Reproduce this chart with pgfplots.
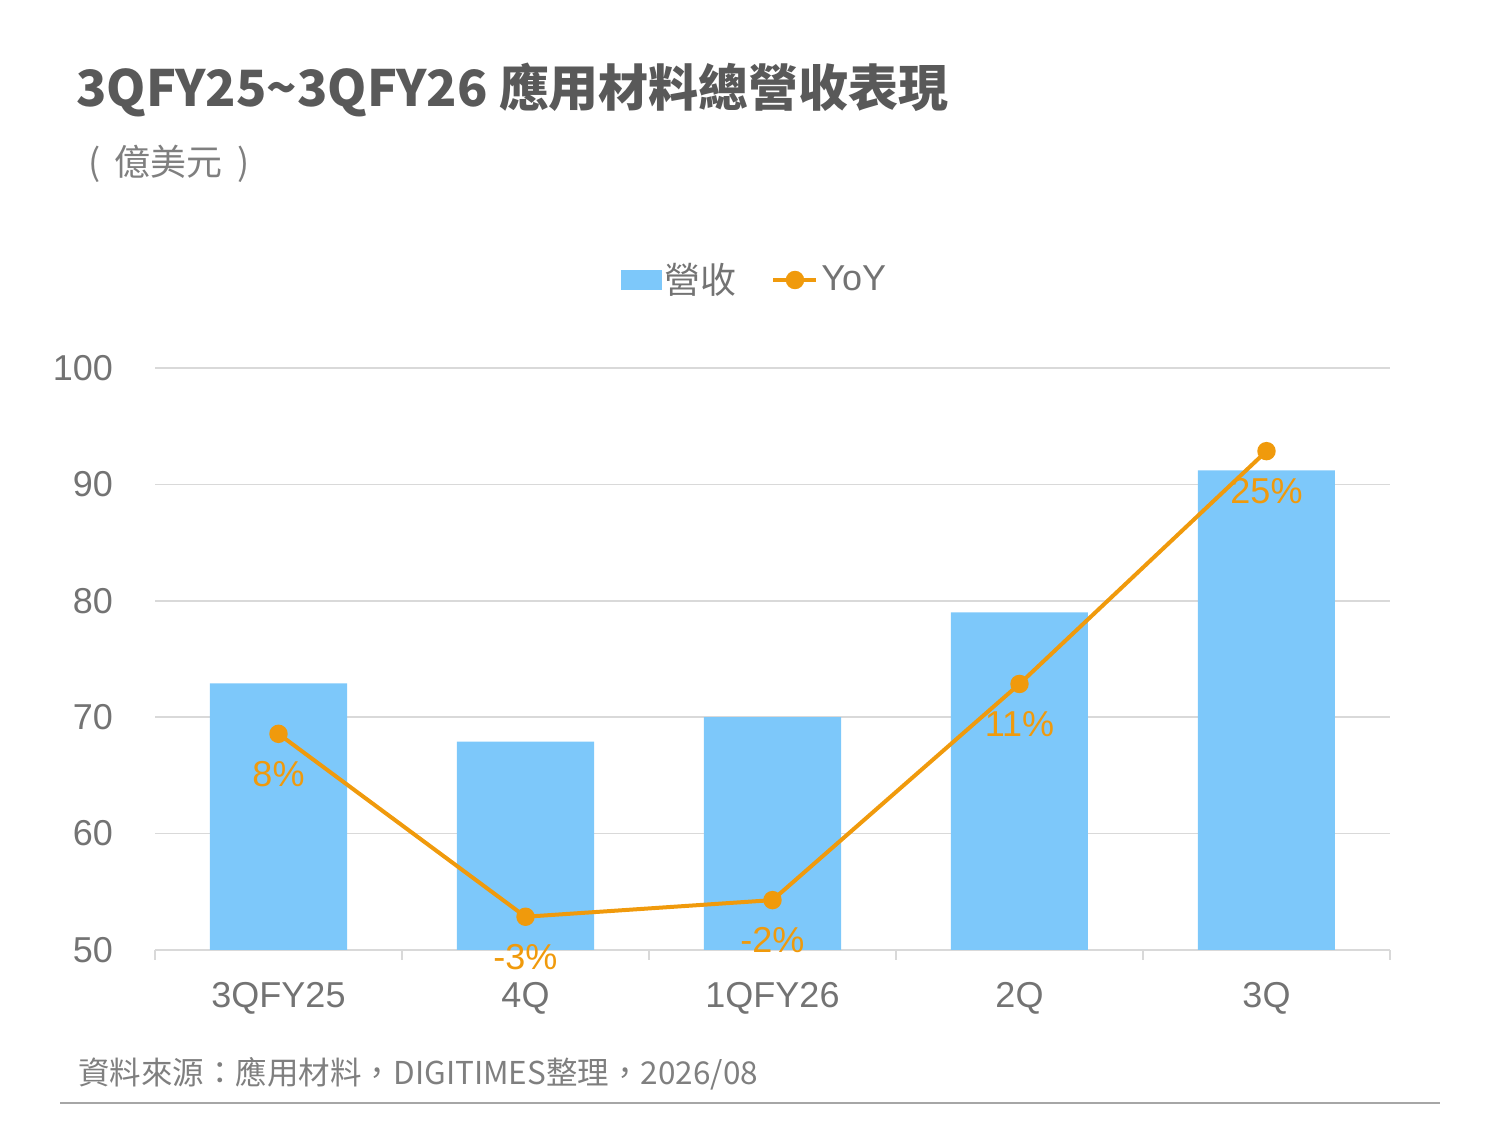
\documentclass[border=0pt]{standalone}
\usepackage{pgfplots}
\pgfplotsset{compat=1.18}
\usepackage{fontspec}
\setmainfont{Liberation Sans}
\newfontfamily\cjk{Noto Sans CJK TC}
\definecolor{barblue}{HTML}{7DC8FA}
\definecolor{lineorange}{HTML}{F09A0C}
\definecolor{titlegray}{HTML}{595959}
\definecolor{txtgray}{HTML}{7F7F7F}
\definecolor{tickgray}{HTML}{737373}
\definecolor{gridgray}{HTML}{D9D9D9}
\definecolor{rulegray}{HTML}{A6A6A6}
\begin{document}
\begin{tikzpicture}
\path[use as bounding box] (0,0) rectangle (750pt,562.5pt);
% title
\node[anchor=base west, inner sep=0pt, text=titlegray, font=\cjk\bfseries\fontsize{25}{28}\selectfont] at (38pt,509pt) {3QFY25\textasciitilde 3QFY26 應用材料總營收表現};
\node[anchor=base west, inner sep=0pt, text=txtgray, font=\cjk\fontsize{18}{20}\selectfont] at (44pt,474.5pt) {(\hspace{0.4em}億美元\hspace{0.4em})};
% footer
\node[anchor=base west, inner sep=0pt, text=txtgray, font=\cjk\fontsize{15.75}{18}\selectfont] at (39pt,20pt) {資料來源：應用材料，DIGITIMES整理，2026/08};
\draw[rulegray, line width=0.8pt] (30pt,11pt) -- (720pt,11pt);

\begin{axis}[
  at={(77.5pt,87.5pt)}, anchor=south west,
  scale only axis, width=617.5pt, height=291pt,
  xmin=-0.5, xmax=4.5, ymin=50, ymax=100,
  ytick={50,60,70,80,90,100},
  xtick={0,1,2,3,4},
  xticklabels={3QFY25,4Q,1QFY26,2Q,3Q},
  minor xtick={-0.5,0.5,1.5,2.5,3.5,4.5},
  major tick length=0pt, minor tick length=5pt,
  tick align=outside,
  axis lines*=left,
  x axis line style={gridgray, line width=0.75pt},
  y axis line style={draw=none},
  minor tick style={gridgray, line width=0.75pt},
  ymajorgrids, grid style={gridgray, line width=0.75pt},
  /pgf/number format/assume math mode=true,
  ticklabel style={font=\fontsize{18}{20}\selectfont, text=tickgray},
  yticklabel style={xshift=-17.5pt},
  xticklabel style={yshift=-12.5pt},
]
\addplot[ybar, bar width=68.5pt, fill=barblue, draw=none] coordinates {
  (0,72.9) (1,67.9) (2,70.0) (3,79.0) (4,91.2)
};
\end{axis}

\begin{axis}[
  at={(77.5pt,87.5pt)}, anchor=south west,
  scale only axis, width=617.5pt, height=291pt,
  xmin=-0.5, xmax=4.5, ymin=-5, ymax=30,
  hide axis, clip=false,
  legend columns=2,
  legend style={at={(0.4858,1)}, anchor=center, yshift=44pt, draw=none, fill=none,
    font=\fontsize{18}{20}\selectfont, text=tickgray,
    nodes={inner sep=1.5pt},
    /tikz/every even column/.append style={column sep=16pt}},
]
\addlegendimage{legend image code/.code={\fill[barblue] (0pt,-4.75pt) rectangle (20pt,4.75pt);}}
\addlegendentry{\cjk 營收}
\addplot[lineorange, line width=2pt, mark=*, mark size=3.6pt,
  mark options={fill=lineorange, draw=lineorange},
  legend image code/.code={\draw[lineorange, line width=2pt] (0pt,0pt) -- (21.5pt,0pt); \fill[lineorange] (10.75pt,0pt) circle (3.6pt);},
  nodes near coords, point meta=explicit symbolic,
  every node near coord/.style={font=\fontsize{18}{20}\selectfont, text=lineorange, anchor=center, yshift=-20pt}]
  coordinates {(0,8) [8\%] (1,-3) [-3\%] (2,-2) [-2\%] (3,11) [11\%] (4,25) [25\%]};
\addlegendentry{YoY}
\end{axis}
\end{tikzpicture}
\end{document}
